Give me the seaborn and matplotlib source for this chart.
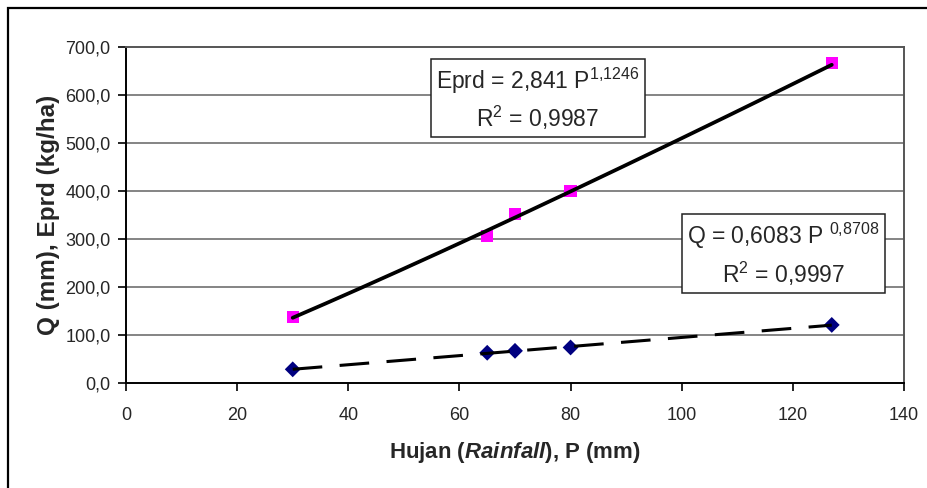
import numpy as np
import pandas as pd
import matplotlib
matplotlib.use("Agg")
import matplotlib.pyplot as plt
from matplotlib.patches import Rectangle
import seaborn as sns

# Rainfall (mm) and observed quantities
rainfall = [30, 65, 70, 80, 127]
eprd = [137, 306, 352, 400, 667]     # Eprd (kg/ha)
runoff = [28.5, 63, 67, 74, 121]     # Q (mm)

x_ticks = [0, 20, 40, 60, 80, 100, 120, 140]
y_ticks = [0, 100, 200, 300, 400, 500, 600, 700]

eq_eprd = ["Eprd = 2,841 P", "1,1246", "0,9987"]
eq_q = ["Q = 0,6083 P ", "0,8708", "0,9997"]

sns.set_style("white")
plt.rcParams["font.family"] = ["Liberation Sans", "DejaVu Sans"]
plt.rcParams["mathtext.fontset"] = "custom"
plt.rcParams["mathtext.rm"] = "Liberation Sans"
plt.rcParams["mathtext.it"] = "Liberation Sans:italic:bold"
plt.rcParams["mathtext.bf"] = "Liberation Sans:bold"

fig = plt.figure(figsize=(9.28, 4.88), dpi=100)
ax = fig.add_axes([126 / 928, 1 - 383 / 488, (904 - 126) / 928, (383 - 47) / 488])

# outer chart frame
fig.patches.append(Rectangle((8 / 928, -0.05), 1.2, 1 - 8 / 488 + 0.05,
                             transform=fig.transFigure, fill=False,
                             edgecolor="black", linewidth=1.6, zorder=0))

df = pd.DataFrame({"P": rainfall, "Eprd": eprd, "Q": runoff})

# power-law trend lines fitted in log space
def power_fit(x, y):
    b, ln_a = np.polyfit(np.log(x), np.log(y), 1)
    return np.exp(ln_a), b

p_line = np.linspace(min(rainfall), max(rainfall), 200)
a_e, b_e = power_fit(rainfall, eprd)
a_q, b_q = power_fit(rainfall, runoff)
trend = pd.DataFrame({"P": p_line,
                      "Eprd": a_e * p_line ** b_e,
                      "Q": a_q * p_line ** b_q})

for yv in y_ticks[1:-1]:
    ax.axhline(yv, color="#707070", linewidth=1.2, zorder=0)

sns.lineplot(data=trend, x="P", y="Eprd", ax=ax, color="black",
             linewidth=2.7, zorder=3)
sns.lineplot(data=trend, x="P", y="Q", ax=ax, color="black",
             linewidth=2.2, linestyle=(0, (9.7, 5.7)), zorder=3)
sns.scatterplot(data=df, x="P", y="Eprd", ax=ax, marker="s", s=80,
                color="#FF00FF", edgecolor="none", zorder=2)
sns.scatterplot(data=df, x="P", y="Q", ax=ax, marker="D", s=65,
                color="#000080", edgecolor="none", zorder=2)

ax.set_xlim(0, 140)
ax.set_ylim(0, 700)
ax.set_xticks(x_ticks)
ax.set_xticklabels([str(v) for v in x_ticks], fontsize=13)
ax.set_yticks(y_ticks)
ax.set_yticklabels([f"{v:.1f}".replace(".", ",") for v in y_ticks], fontsize=13)
ax.tick_params(axis="both", direction="out", length=6, width=1.2,
               color="black", bottom=True, left=True)
ax.tick_params(axis="x", pad=11)
ax.tick_params(axis="y", pad=5)

for side in ["left", "bottom"]:
    ax.spines[side].set_color("black")
    ax.spines[side].set_linewidth(1.4)
for side in ["top", "right"]:
    ax.spines[side].set_color("#555555")
    ax.spines[side].set_linewidth(1.4)

ax.set_xlabel(r"Hujan ($\it{Rainfall}$), P (mm)", fontsize=16,
              fontweight="bold", labelpad=12)
ax.set_ylabel("Q (mm), Eprd (kg/ha)", fontsize=17.5, fontweight="bold",
              labelpad=4)

box = dict(boxstyle="square,pad=0.22", facecolor="white",
           edgecolor="#222222", linewidth=1.1)
ax.text(74.1, 592, f"{eq_eprd[0]}$^{{{eq_eprd[1].replace(',', '{,}')}}}$\n"
        f"R$^2$ = {eq_eprd[2]}", ha="center", va="center",
        multialignment="center", fontsize=16.5, bbox=box, zorder=5,
        linespacing=1.35)
ax.text(118.3, 268, f"{eq_q[0]}$^{{{eq_q[1].replace(',', '{,}')}}}$\n"
        f"R$^2$ = {eq_q[2]}", ha="center", va="center",
        multialignment="center", fontsize=16.5, bbox=box, zorder=5,
        linespacing=1.35)

fig.savefig("out.png", dpi=100)
